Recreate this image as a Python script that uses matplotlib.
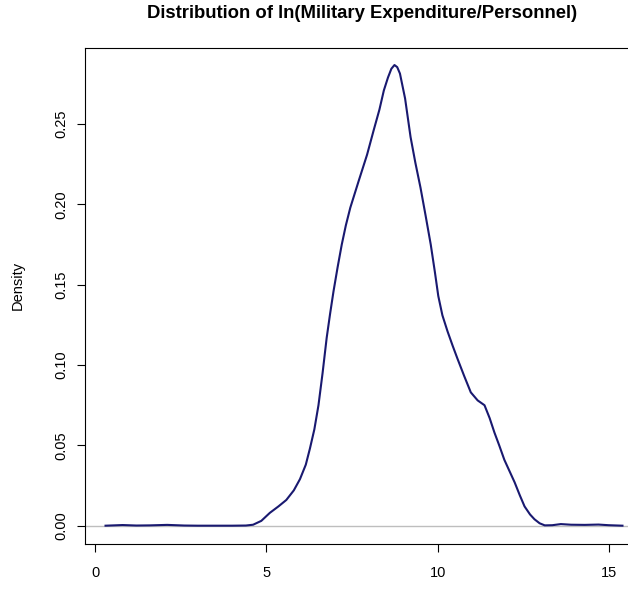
import numpy as np
import matplotlib.pyplot as plt

plt.rcParams['font.family'] = ['Liberation Sans', 'DejaVu Sans']

# density estimate of ln(military expenditure / personnel)
x_vals = [0.3, 0.8, 1.2, 1.6, 2.1, 2.6, 3.0, 3.5, 4.0, 4.4, 4.61, 4.85, 5.10, 5.35,
          5.58, 5.80, 5.98, 6.15, 6.27, 6.40, 6.52, 6.64, 6.76, 6.86, 6.96, 7.08,
          7.20, 7.32, 7.45, 7.70, 7.94, 8.13, 8.30, 8.43, 8.55, 8.65, 8.74, 8.82,
          8.90, 9.05, 9.21, 9.35, 9.50, 9.65, 9.80, 9.92, 10.02, 10.14, 10.29,
          10.44, 10.58, 10.78, 10.97, 11.17, 11.37, 11.52, 11.66, 11.80, 11.95,
          12.10, 12.25, 12.40, 12.54, 12.70, 12.83, 12.98, 13.13, 13.35, 13.6,
          13.9, 14.3, 14.7, 15.0, 15.4]
density = [0.0, 0.0004, 0.0001, 0.0002, 0.0005, 0.0001, 0.0, 0.0, 0.0, 0.0001,
           0.0006, 0.003, 0.008, 0.012, 0.016, 0.022, 0.029, 0.038, 0.048, 0.060,
           0.075, 0.095, 0.117, 0.132, 0.146, 0.161, 0.175, 0.187, 0.198, 0.215,
           0.231, 0.246, 0.259, 0.271, 0.279, 0.2845, 0.2868, 0.2855, 0.2815,
           0.266, 0.242, 0.226, 0.2105, 0.193, 0.175, 0.158, 0.143, 0.131, 0.121,
           0.112, 0.104, 0.093, 0.083, 0.078, 0.075, 0.067, 0.058, 0.050, 0.041,
           0.034, 0.027, 0.019, 0.012, 0.007, 0.004, 0.0015, 0.0002, 0.0003,
           0.001, 0.0006, 0.0005, 0.0007, 0.0003, 0.0]

fig = plt.figure(figsize=(6.28, 5.9), dpi=100)
ax = fig.add_axes([85 / 628, 46 / 590, 558 / 628, 496 / 590])

ax.axhline(0, color='#bebebe', lw=1)
ax.plot(x_vals, density, color='#191970', lw=1.5)

ax.set_xlim(-0.3, 16.0)
ax.set_ylim(-0.0114, 0.2974)
ax.set_xticks([0, 5, 10, 15])
ax.set_yticks([0.0, 0.05, 0.10, 0.15, 0.20, 0.25])
ax.set_yticklabels(['0.00', '0.05', '0.10', '0.15', '0.20', '0.25'],
                   rotation=90, va='center')
ax.tick_params(direction='out', length=6, width=0.8, labelsize=10.5)
ax.tick_params(axis='x', pad=10)
ax.tick_params(axis='y', pad=6)
for s in ax.spines.values():
    s.set_linewidth(0.8)

fig.text(18 / 628, 1 - 285 / 590, 'Density', rotation=90, ha='center',
         va='center', fontsize=10.5)
fig.text(362 / 628, 1 - 14 / 590,
         'Distribution of ln(Military Expenditure/Personnel)',
         ha='center', va='center', fontsize=13.3, fontweight='bold')

fig.savefig('out.png', dpi=100)
